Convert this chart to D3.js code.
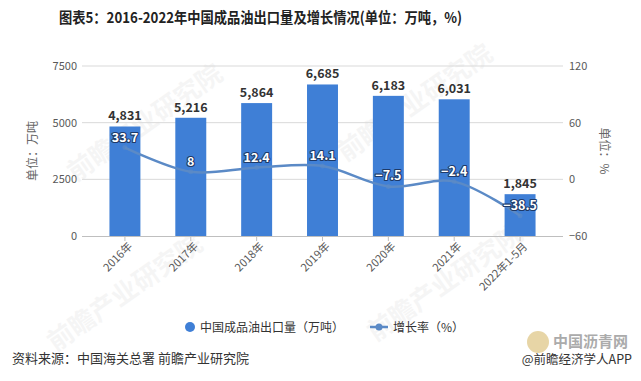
<!DOCTYPE html>
<html><head><meta charset="utf-8">
<script src="https://cdn.jsdelivr.net/npm/d3@7/dist/d3.min.js"></script>
<style>
html,body{margin:0;padding:0;background:#fff;}
svg{display:block;font-family:"Noto Sans CJK SC","Microsoft YaHei",sans-serif;}
</style></head>
<body><svg id="c" width="641" height="381"></svg>
<script>
const categories = ["2016年","2017年","2018年","2019年","2020年","2021年","2022年1-5月"];
const exportVolume = [4831,5216,5864,6685,6183,6031,1845];
const growthRate = [33.7,8,12.4,14.1,-7.5,-2.4,-38.5];
const leftTicks = [0,2500,5000,7500];
const rightTicks = [-60,0,60,120];

const svg = d3.select("#c");
const barColor = "#3f7fd6", lineColor = "#5b8ac6";
const gridL = 82, gridR = 563, y0 = 236, yTop = 66;

// watermarks
const wm = [[150,130],[420,110],[130,300],[450,290]];
wm.forEach(([x,y])=>svg.append("text").attr("x",x).attr("y",y)
  .attr("transform",`rotate(-35,${x},${y})`).attr("text-anchor","middle")
  .attr("font-size",26).attr("font-weight","bold").attr("fill","#000").attr("opacity",0.035)
  .text("前瞻产业研究院"));

const x = d3.scaleBand().domain(categories).range([92,553]).paddingInner(0.53).paddingOuter(0.265);
const yL = d3.scaleLinear().domain([0,7500]).range([y0,yTop]);
const yR = d3.scaleLinear().domain([-60,120]).range([y0,yTop]);

// title
svg.append("text").attr("x",59).attr("y",23)
  .attr("font-size",15).attr("font-weight","bold").attr("fill","#222")
  .attr("textLength",403).attr("lengthAdjust","spacingAndGlyphs")
  .text("图表5：2016-2022年中国成品油出口量及增长情况(单位：万吨，%)");

// gridlines
svg.append("g").selectAll("line").data(leftTicks.filter(d=>d>0)).join("line")
  .attr("x1",gridL).attr("x2",gridR).attr("y1",d=>yL(d)).attr("y2",d=>yL(d))
  .attr("stroke","#d9d9d9").attr("stroke-width",1);

// left axis
const gL = svg.append("g").attr("transform",`translate(${gridL},0)`)
  .call(d3.axisLeft(yL).tickValues(leftTicks).tickFormat(d3.format("d")).tickSize(0).tickPadding(5));
gL.select(".domain").remove();
gL.selectAll("text").attr("font-size",11).attr("fill","#595959").attr("font-family","'Noto Sans CJK SC',sans-serif");

// right axis
const gR = svg.append("g").attr("transform",`translate(${gridR},0)`)
  .call(d3.axisRight(yR).tickValues(rightTicks).tickSize(0).tickPadding(6));
gR.select(".domain").remove();
gR.selectAll("text").attr("font-size",11).attr("fill","#595959").attr("font-family","'Noto Sans CJK SC',sans-serif");

// axis titles
svg.append("text").attr("transform","translate(37,151) rotate(-90)").attr("text-anchor","middle")
  .attr("font-size",12).attr("fill","#666").text("单位：万吨");
svg.append("text").attr("transform","translate(600,151) rotate(90)").attr("text-anchor","middle")
  .attr("font-size",12).attr("fill","#666").text("单位：%");

// bars
svg.append("g").selectAll("rect").data(exportVolume).join("rect")
  .attr("x",(d,i)=>x(categories[i])).attr("width",x.bandwidth())
  .attr("y",d=>yL(d)).attr("height",d=>y0-yL(d)).attr("fill",barColor);

// x axis baseline
svg.append("line").attr("x1",gridL).attr("x2",gridR).attr("y1",y0+0.5).attr("y2",y0+0.5)
  .attr("stroke","#bfbfbf");
const gX = svg.append("g").attr("transform",`translate(0,${y0})`)
  .call(d3.axisBottom(x).tickSize(5).tickPadding(3));
gX.select(".domain").remove();
gX.selectAll("line").attr("stroke","#bfbfbf");
gX.selectAll("text").attr("font-size",11).attr("fill","#595959")
  .attr("font-family","'Noto Sans CJK SC',sans-serif")
  .attr("text-anchor","end").attr("dy","0.5em").attr("dx","-0.2em")
  .attr("transform","rotate(-45)");

// bar labels
svg.append("g").selectAll("text").data(exportVolume).join("text")
  .attr("x",(d,i)=>x(categories[i])+x.bandwidth()/2).attr("y",d=>yL(d)-6)
  .attr("text-anchor","middle").attr("font-size",12.5).attr("font-weight","bold").attr("fill","#333")
  .text(d=>d3.format(",")(d));

// line
const cx = (i)=>x(categories[i])+x.bandwidth()/2;
const line = d3.line().x((d,i)=>cx(i)).y(d=>yR(d)).curve(d3.curveCatmullRom.alpha(0.5));
svg.append("path").datum(growthRate).attr("d",line).attr("fill","none")
  .attr("stroke",lineColor).attr("stroke-width",2.5);
svg.append("g").selectAll("circle").data(growthRate).join("circle")
  .attr("cx",(d,i)=>cx(i)).attr("cy",d=>yR(d)).attr("r",2.5).attr("fill",lineColor).attr("opacity",0.6);

// line labels
svg.append("g").selectAll("text").data(growthRate).join("text")
  .attr("x",(d,i)=>cx(i)).attr("y",d=>yR(d)-6)
  .attr("text-anchor","middle").attr("font-size",12.5).attr("font-weight","bold")
  .attr("fill","#fff").attr("stroke","#1e3a68").attr("stroke-width",2.2)
  .attr("paint-order","stroke").attr("stroke-linejoin","round")
  .text(d=>d<0?"−"+Math.abs(d):d);

// legend
svg.append("circle").attr("cx",190).attr("cy",327).attr("r",5).attr("fill",barColor);
svg.append("text").attr("x",200).attr("y",331.5).attr("font-size",12).attr("fill","#333")
  .text("中国成品油出口量（万吨）");
svg.append("line").attr("x1",370).attr("x2",388).attr("y1",327).attr("y2",327)
  .attr("stroke",lineColor).attr("stroke-width",2.5);
svg.append("circle").attr("cx",379).attr("cy",327).attr("r",3.5).attr("fill",lineColor);
svg.append("text").attr("x",393).attr("y",331.5).attr("font-size",12).attr("fill","#333")
  .text("增长率（%）");

// source
svg.append("text").attr("x",12).attr("y",363).attr("font-size",13).attr("fill","#333")
  .text("资料来源：中国海关总署 前瞻产业研究院");
// logo watermark
svg.append("circle").attr("cx",538).attr("cy",342).attr("r",11).attr("fill","#c9a23a").attr("opacity",0.45);
svg.append("text").attr("x",553).attr("y",347).attr("font-size",15).attr("font-weight","bold")
  .attr("fill","#888").attr("opacity",0.7).text("中国沥青网");
svg.append("text").attr("x",632).attr("y",364).attr("text-anchor","end").attr("font-size",12.5).attr("fill","#333")
  .text("@前瞻经济学人APP");
</script></body></html>
